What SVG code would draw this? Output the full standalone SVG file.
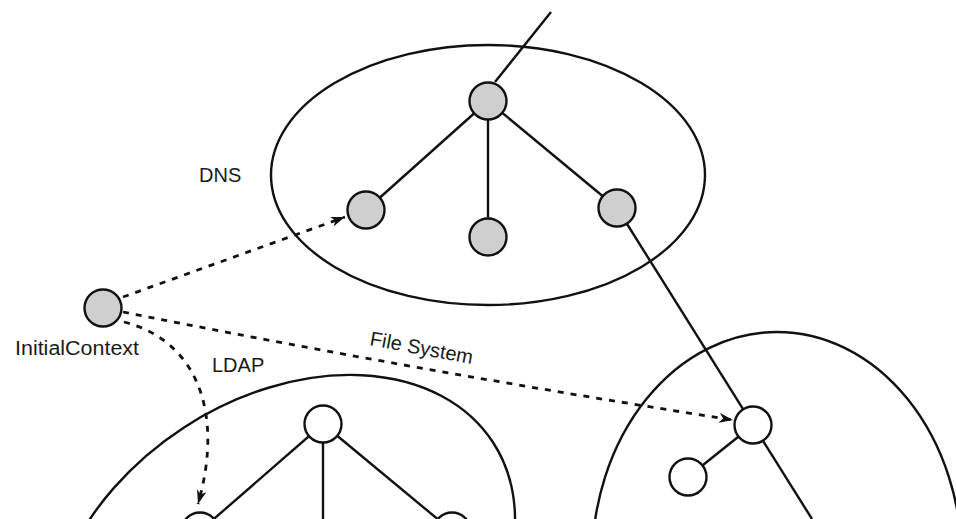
<svg xmlns="http://www.w3.org/2000/svg" width="956" height="519" viewBox="0 0 956 519">
  <style>
    .domain { fill: none; stroke: #111; stroke-width: 2.4; }
    .edge { fill: none; stroke: #111; stroke-width: 2.4; }
    .ref { fill: none; stroke: #111; stroke-width: 2.8; stroke-dasharray: 6 7; }
    .ctx { fill: #cfcfcf; stroke: #111; stroke-width: 2.4; }
    .obj { fill: #fff; stroke: #111; stroke-width: 2.4; }
    .label { font-family: "Liberation Sans", Arial, sans-serif; font-size: 20px; fill: #1a1a1a; }
  </style>
  <defs>
    <marker id="arrow" markerUnits="userSpaceOnUse" markerWidth="16" markerHeight="12" refX="14" refY="5" orient="auto">
      <path d="M0,0 L14,5 L0,10 L4,5 z" fill="#111"/>
    </marker>
  </defs>

  <rect x="0" y="0" width="956" height="519" fill="#fff"/>

  <!-- naming systems -->
  <g id="dns-domain">
    <ellipse class="domain" cx="488" cy="175" rx="217" ry="130"/>
  </g>
  <g id="ldap-domain">
    <ellipse class="domain" cx="282.6" cy="579.2" rx="251" ry="181" transform="rotate(-33 282.6 579.2)"/>
  </g>
  <g id="fs-domain">
    <ellipse class="domain" cx="777" cy="562" rx="185" ry="230"/>
  </g>

  <!-- tree edges and references -->
  <g id="connectors">
    <line class="edge" x1="495" y1="82" x2="551" y2="12"/>
    <line class="edge" x1="488" y1="101" x2="366" y2="210"/>
    <line class="edge" x1="488" y1="101" x2="488" y2="237"/>
    <line class="edge" x1="488" y1="101" x2="617" y2="208"/>
    <line class="edge" x1="617" y1="208" x2="812" y2="519"/>
    <line class="edge" x1="753" y1="425" x2="688" y2="477"/>
    <line class="edge" x1="323" y1="424" x2="200" y2="531"/>
    <line class="edge" x1="323" y1="424" x2="323" y2="519"/>
    <line class="edge" x1="323" y1="424" x2="452" y2="531"/>

    <path class="ref" d="M123,297 L345,217" marker-end="url(#arrow)"/>
    <path class="ref" d="M123,312 Q425,372 733,420" marker-end="url(#arrow)"/>
    <path class="ref" d="M124,322 C195,340 225,410 198,504" marker-end="url(#arrow)"/>
  </g>

  <!-- DNS tree -->
  <g id="dns-root"><circle class="ctx" cx="488" cy="101" r="18.5"/></g>
  <g id="dns-left"><circle class="ctx" cx="366" cy="210" r="18.5"/></g>
  <g id="dns-middle"><circle class="ctx" cx="488" cy="237" r="18.5"/></g>
  <g id="dns-right"><circle class="ctx" cx="617" cy="208" r="18.5"/></g>

  <!-- initial context -->
  <g id="initial-context"><circle class="ctx" cx="103" cy="308" r="18.5"/></g>

  <!-- LDAP tree -->
  <g id="ldap-root"><circle class="obj" cx="323" cy="424" r="18.5"/></g>
  <g id="ldap-left"><circle class="obj" cx="200" cy="531" r="18.5"/></g>
  <g id="ldap-right"><circle class="obj" cx="452" cy="531" r="18.5"/></g>

  <!-- file system tree -->
  <g id="fs-root"><circle class="obj" cx="753" cy="425" r="18.5"/></g>
  <g id="fs-child"><circle class="obj" cx="688" cy="477" r="18.5"/></g>

  <!-- labels -->
  <g id="labels">
    <text class="label" x="199" y="182" font-size="21">DNS</text>
    <text class="label" x="15" y="355" textLength="124" lengthAdjust="spacingAndGlyphs">InitialContext</text>
    <text class="label" x="212" y="372">LDAP</text>
    <text class="label" x="369" y="345" transform="rotate(10.5 369 345)">File System</text>
  </g>
</svg>
